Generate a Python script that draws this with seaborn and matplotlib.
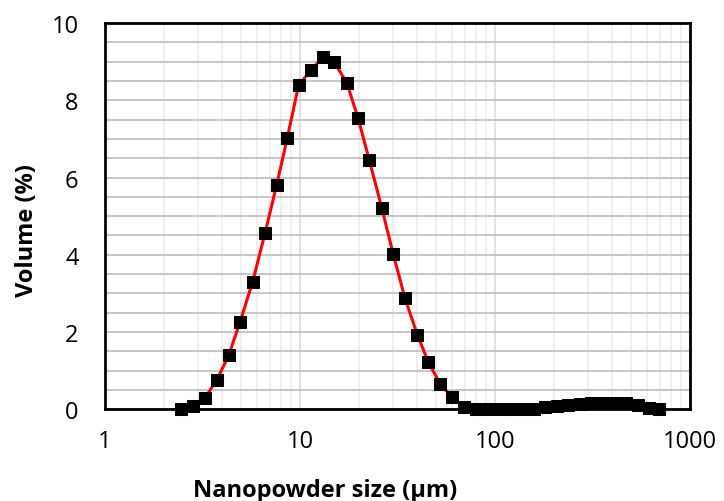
import numpy as np
import pandas as pd
import matplotlib
matplotlib.use("Agg")
import matplotlib.pyplot as plt
import seaborn as sns
from matplotlib.ticker import LogLocator, FixedLocator, NullFormatter

size_um = [2.453, 2.837, 3.257, 3.740, 4.309, 4.923, 5.720, 6.613, 7.596, 8.607,
           9.847, 11.39, 13.07, 14.99, 17.36, 19.83, 22.67, 26.24, 30.10, 34.56,
           39.96, 45.50, 52.24, 59.97, 69.35,
           79.62, 91.31, 104.7, 120.1, 137.6, 157.7, 180.9, 207.5, 237.6, 272.5,
           312.6, 358.4, 410.6, 470.8, 539.9, 618.4, 690.0]
volume_pct = [0.00, 0.07, 0.29, 0.75, 1.39, 2.25, 3.30, 4.55, 5.81, 7.02,
              8.40, 8.78, 9.11, 8.98, 8.46, 7.55, 6.45, 5.22, 4.01, 2.87,
              1.93, 1.22, 0.66, 0.32, 0.06,
              0.00, 0.00, 0.00, 0.00, 0.00, 0.01, 0.05, 0.09, 0.12, 0.14,
              0.16, 0.17, 0.17, 0.15, 0.10, 0.04, 0.01]

x_ticks = [1, 10, 100, 1000]
y_ticks = [0, 2, 4, 6, 8, 10]

df = pd.DataFrame({"size": size_um, "volume": volume_pct})

sns.set_style("white")
plt.rcParams['font.family'] = ['Open Sans', 'DejaVu Sans']
plt.rcParams['text.color'] = 'black'
plt.rcParams['axes.labelcolor'] = 'black'
plt.rcParams['xtick.color'] = 'black'
plt.rcParams['ytick.color'] = 'black'

fig = plt.figure(figsize=(7.24, 5.02), dpi=100)
ax = fig.add_axes([0.145, 0.183, 0.808, 0.769])

ax.set_xscale("log")
ax.set_xlim(1, 1000)
ax.set_ylim(0, 10)

# grid
ax.xaxis.set_major_locator(FixedLocator(x_ticks))
ax.xaxis.set_minor_locator(LogLocator(base=10, subs=np.arange(2, 10)))
ax.xaxis.set_minor_formatter(NullFormatter())
ax.set_xticklabels([str(t) for t in x_ticks])
ax.yaxis.set_major_locator(FixedLocator(y_ticks))
ax.yaxis.set_minor_locator(FixedLocator(np.arange(0.5, 10, 0.5)))
ax.set_yticklabels([str(t) for t in y_ticks])
ax.grid(True, axis="x", which="major", color="#dcdcdc", lw=1.2)
ax.grid(True, axis="x", which="minor", color="#ececec", lw=1.2)
ax.grid(True, axis="y", which="both", color="#bdbdbd", lw=1.2)
ax.set_axisbelow(True)

sns.lineplot(data=df, x="size", y="volume", ax=ax, color="#ff0000", lw=2.2,
             marker="s", markersize=8, markerfacecolor="black",
             markeredgecolor="black", zorder=3, clip_on=False)

for s in ax.spines.values():
    s.set_color("black")
    s.set_linewidth(2)

ax.tick_params(axis="both", which="both", length=0, labelsize=17)
ax.tick_params(axis="x", pad=14)
ax.tick_params(axis="y", pad=19)
ax.set_xlabel("Nanopowder size (µm)", fontsize=17, fontweight="bold")
ax.set_ylabel("Volume (%)", fontsize=17, fontweight="bold")
ax.xaxis.set_label_coords(0.376, -0.178)
ax.yaxis.set_label_coords(-0.113, 0.466)

fig.savefig("out.png", dpi=100)
